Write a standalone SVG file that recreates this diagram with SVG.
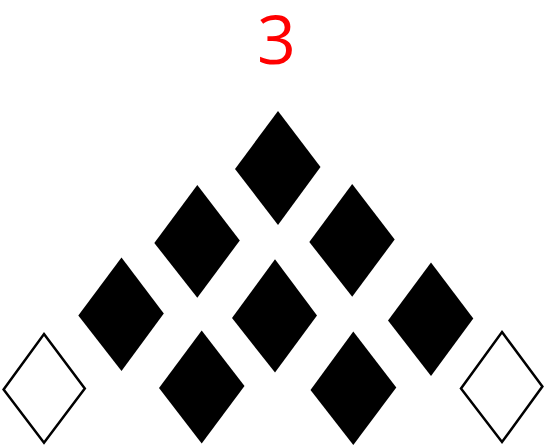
<svg xmlns="http://www.w3.org/2000/svg" width="545" height="447" viewBox="0 0 545 447">
<style>
.f{fill:#000;stroke:none}
.o{fill:#fff;stroke:#000;stroke-width:2.5;stroke-linejoin:miter}
.t{font-family:"Open Sans","Noto Sans","DejaVu Sans",sans-serif;font-size:68px;fill:#ff0000;text-anchor:middle}
</style>
<rect width="545" height="447" fill="#fff"/>
<text class="t" x="276.5" y="64">3</text>
<g id="n1"><path class="f" d="M278 111 L320.5 167 L278 225 L235 169 Z"/></g>
<g id="n2"><path class="f" d="M197.3 185 L239.8 240.5 L197.3 297.7 L154.3 243 Z"/></g>
<g id="n3"><path class="f" d="M352.2 184 L394.7 239.5 L352.2 296.7 L309.3 242 Z"/></g>
<g id="n4"><path class="f" d="M121.5 257.5 L163.8 313.5 L121.5 371 L78.3 315.5 Z"/></g>
<g id="n5"><path class="f" d="M275 259.3 L317 315.5 L275 372.5 L232 318 Z"/></g>
<g id="n6"><path class="f" d="M431 262.5 L473.3 318.5 L431 376 L388 320.5 Z"/></g>
<g id="n7"><path class="f" d="M201.7 330.5 L244.5 386 L201.7 443.5 L159 388 Z"/></g>
<g id="n8"><path class="f" d="M353.3 331.5 L396.3 387.5 L353.3 445 L310.5 390 Z"/></g>
<g id="n9"><path class="o" d="M44 334 L84.8 388.5 L44 442.7 L3.6 389.5 Z"/></g>
<g id="n10"><path class="o" d="M502 332 L542.4 386.5 L502 442 L461 388.5 Z"/></g>
<g id="connectors"></g>
</svg>
